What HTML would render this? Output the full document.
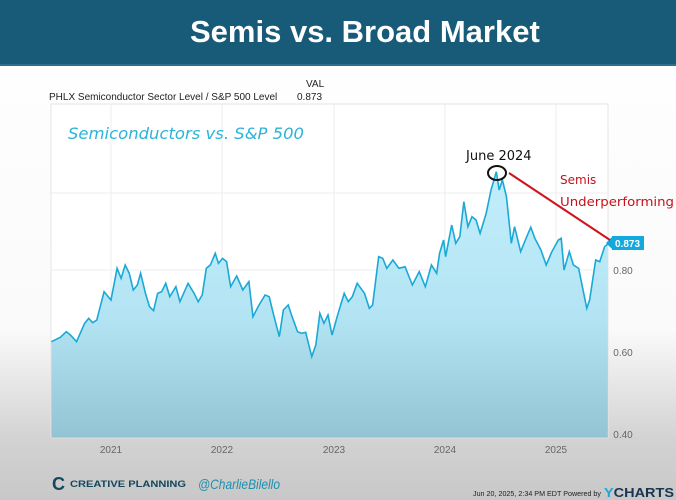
<!DOCTYPE html>
<html><head><meta charset="utf-8"><style>
body{margin:0;width:676px;height:500px;overflow:hidden;font-family:"Liberation Sans",sans-serif;background:linear-gradient(#fff 0px,#fafafa 330px,#d2d2d2 440px,#c8c8c8 500px);position:relative}
.hdr{position:absolute;left:0;top:0;width:676px;height:64px;background:#185b79;border-bottom:2px solid #2d6f8c}
.t{position:absolute;left:190px;width:344px;top:14px;text-align:center;color:#fff;font-size:31px;font-weight:bold;white-space:nowrap}
.s{position:absolute;font-size:10px;color:#222}
</style></head><body>
<div class="hdr"><div class="t">Semis vs. Broad Market</div></div>
<div class="s" style="left:306px;top:79px">VAL</div>
<div class="s" style="left:49px;top:92px">PHLX Semiconductor Sector Level / S&amp;P 500 Level</div>
<div class="s" style="left:297px;top:92px">0.873</div>
<svg style="position:absolute;left:0;top:0" width="676" height="500">
<rect x="51" y="104" width="557" height="334" fill="#fff" stroke="#e4e4e4"/>
<g stroke="#ececec" stroke-width="1">
<line x1="51" y1="193" x2="608" y2="193"/><line x1="51" y1="270" x2="608" y2="270"/><line x1="51" y1="352" x2="608" y2="352"/>
<line x1="111" y1="104" x2="111" y2="438"/><line x1="222" y1="104" x2="222" y2="438"/><line x1="334" y1="104" x2="334" y2="438"/><line x1="445" y1="104" x2="445" y2="438"/><line x1="556" y1="104" x2="556" y2="438"/>
</g>
<g font-size="10" fill="#666" text-anchor="middle">
<text x="111" y="453">2021</text><text x="222" y="453">2022</text><text x="334" y="453">2023</text><text x="445" y="453">2024</text><text x="556" y="453">2025</text>
<text x="623" y="274">0.80</text><text x="623" y="356">0.60</text><text x="623" y="438">0.40</text>
</g>
</svg>
<svg style="position:absolute;left:40px;top:140px" width="636" height="320" viewBox="0 0 1568 960" preserveAspectRatio="none">
<defs><linearGradient id="g" x1="0" y1="0" x2="0" y2="1"><stop offset="0.1" stop-color="#c0ecfa"/><stop offset="0.55" stop-color="#b3e4f3"/><stop offset="1" stop-color="#92c4d3"/></linearGradient></defs>
<path id="p" fill="url(#g)" d="M28,605 L50,592 65,575 75,585 90,605 110,550 120,535 130,548 140,540 158,455 175,480 190,385 200,415 210,375 220,400 230,450 240,435 248,400 260,460 270,500 280,512 290,460 300,455 310,430 320,470 335,440 345,485 365,430 380,460 390,485 400,465 410,385 420,375 432,340 440,370 450,355 460,365 470,440 485,408 500,450 515,425 525,530 540,495 555,465 565,470 575,520 590,590 600,510 612,495 620,525 635,575 645,580 655,577 670,650 680,615 690,520 700,550 710,525 720,585 735,520 750,460 760,485 770,470 782,430 800,460 812,505 820,495 835,350 845,355 855,385 870,360 885,385 900,380 918,435 935,395 950,440 965,375 978,400 985,340 995,300 1000,350 1015,255 1025,310 1035,290 1045,185 1055,260 1065,230 1075,240 1085,280 1100,220 1112,150 1125,95 1132,150 1140,120 1150,170 1162,310 1170,260 1185,335 1200,290 1210,262 1220,295 1235,330 1248,375 1262,335 1278,300 1285,295 1292,390 1305,335 1315,375 1328,385 1348,505 1355,480 1370,360 1380,365 1392,320 1400,312 L1400,893 L28,893 Z"/>
<path fill="none" stroke="#1aa9d6" stroke-width="1.6" vector-effect="non-scaling-stroke" d="M28,605 L50,592 65,575 75,585 90,605 110,550 120,535 130,548 140,540 158,455 175,480 190,385 200,415 210,375 220,400 230,450 240,435 248,400 260,460 270,500 280,512 290,460 300,455 310,430 320,470 335,440 345,485 365,430 380,460 390,485 400,465 410,385 420,375 432,340 440,370 450,355 460,365 470,440 485,408 500,450 515,425 525,530 540,495 555,465 565,470 575,520 590,590 600,510 612,495 620,525 635,575 645,580 655,577 670,650 680,615 690,520 700,550 710,525 720,585 735,520 750,460 760,485 770,470 782,430 800,460 812,505 820,495 835,350 845,355 855,385 870,360 885,385 900,380 918,435 935,395 950,440 965,375 978,400 985,340 995,300 1000,350 1015,255 1025,310 1035,290 1045,185 1055,260 1065,230 1075,240 1085,280 1100,220 1112,150 1125,95 1132,150 1140,120 1150,170 1162,310 1170,260 1185,335 1200,290 1210,262 1220,295 1235,330 1248,375 1262,335 1278,300 1285,295 1292,390 1305,335 1315,375 1328,385 1348,505 1355,480 1370,360 1380,365 1392,320 1400,312"/>
</svg>
<svg style="position:absolute;left:0;top:0" width="676" height="500">
<rect x="612" y="236" width="32" height="14" fill="#14a9dc"/><polygon points="606,243 612,237 612,249" fill="#14a9dc"/>
<text x="615" y="247" font-size="10" font-weight="bold" fill="#fff">0.873</text>
<ellipse cx="497" cy="173" rx="9" ry="7" fill="none" stroke="#111" stroke-width="2"/>
<line x1="509" y1="173" x2="610" y2="240" stroke="#d0121b" stroke-width="2"/>
<text x="466" y="160" font-size="13" fill="#111" font-family="'DejaVu Sans',sans-serif">June 2024</text>
<text x="560" y="184" font-size="12" fill="#c8101a" font-family="'DejaVu Sans',sans-serif">Semis</text>
<text x="560" y="206" font-size="12" fill="#c8101a" font-family="'DejaVu Sans',sans-serif" textLength="114" lengthAdjust="spacingAndGlyphs">Underperforming</text>
<text x="68" y="139" font-size="16" fill="#2bb3da" font-style="italic" font-family="'DejaVu Sans',sans-serif" textLength="236" lengthAdjust="spacingAndGlyphs">Semiconductors vs. S&amp;P 500</text>
<text x="52" y="490" font-size="18" font-weight="bold" fill="#14475e">C</text>
<text x="70" y="487" font-size="9" font-weight="bold" fill="#14475e" textLength="116" lengthAdjust="spacingAndGlyphs">CREATIVE PLANNING</text>
<text x="198" y="489" font-size="14" font-style="italic" fill="#1d8fae" textLength="82" lengthAdjust="spacingAndGlyphs">@CharlieBilello</text>
<text x="473" y="496" font-size="7" fill="#222" textLength="128" lengthAdjust="spacingAndGlyphs">Jun 20, 2025, 2:34 PM EDT Powered by</text>
<text x="604" y="497" font-size="13" font-weight="bold" fill="#1a3550" textLength="70" lengthAdjust="spacingAndGlyphs"><tspan fill="#1aa9d6">Y</tspan>CHARTS</text>
</svg>
</body></html>
